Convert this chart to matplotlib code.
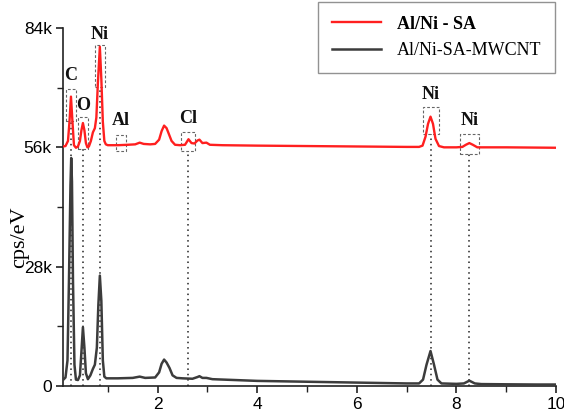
import matplotlib
matplotlib.use("Agg")
import matplotlib.pyplot as plt
from matplotlib.patches import Rectangle
from matplotlib.ticker import FixedLocator

# ---------------- data ----------------
energy_sa = [0.10, 0.15, 0.20, 0.23, 0.26, 0.29, 0.32, 0.36, 0.40, 0.44, 0.47, 0.50,
             0.53, 0.56, 0.59, 0.62, 0.66, 0.70, 0.74, 0.77, 0.80, 0.84, 0.87, 0.90,
             0.93, 0.96, 1.00, 1.20, 1.40, 1.55, 1.64, 1.72, 1.85, 1.95, 2.03, 2.08,
             2.13, 2.18, 2.23, 2.28, 2.35, 2.45, 2.55, 2.62, 2.68, 2.74, 2.80, 2.84,
             2.90, 2.98, 3.05, 3.30, 4.00, 5.00, 6.00, 7.00, 7.25, 7.32, 7.38, 7.43,
             7.48, 7.53, 7.58, 7.65, 7.75, 8.00, 8.12, 8.19, 8.26, 8.33, 8.42, 8.60,
             9.00, 9.50, 10.00]
counts_sa = [56200, 56300, 57500, 62000, 67900, 62000, 56500, 55900, 56200, 57500, 60000, 61700,
             60000, 57000, 56000, 56200, 57500, 59500, 60500, 63000, 71000, 79600, 72000, 62000,
             57500, 56700, 56500, 56500, 56600, 56700, 57100, 56800, 56700, 56800, 57800, 59800,
             61100, 60500, 59000, 57500, 56600, 56500, 56600, 57900, 57000, 56900, 57600, 57800,
             57000, 57100, 56600, 56500, 56400, 56300, 56200, 56100, 56100, 56400, 58500, 61500,
             63200, 61500, 58000, 56300, 56000, 56000, 56100, 56600, 57000, 56600, 56000, 56000,
             56000, 55950, 55900]

energy_cnt = [0.10, 0.15, 0.19, 0.22, 0.25, 0.265, 0.28, 0.30, 0.33, 0.36, 0.40, 0.44,
              0.47, 0.50, 0.53, 0.56, 0.60, 0.65, 0.70, 0.74, 0.78, 0.81, 0.84, 0.87,
              0.90, 0.93, 0.97, 1.20, 1.50, 1.64, 1.75, 1.95, 2.03, 2.08, 2.13, 2.18,
              2.24, 2.30, 2.38, 2.50, 2.70, 2.80, 2.84, 2.90, 2.98, 3.10, 4.00, 5.00,
              6.00, 7.00, 7.25, 7.33, 7.40, 7.48, 7.55, 7.62, 7.70, 8.00, 8.15, 8.26,
              8.37, 8.50, 9.00, 9.60, 10.00]
counts_cnt = [1400, 2000, 6000, 25000, 47000, 53500, 48000, 25000, 5000, 1500, 1400, 2500,
              8000, 13800, 9000, 3000, 1600, 2500, 4000, 5000, 9000, 19000, 25900, 20000,
              6000, 2200, 1800, 1800, 1900, 2200, 1900, 2000, 3200, 5200, 6200, 5500,
              4200, 2500, 1900, 1800, 1700, 2100, 2300, 1900, 1900, 1600, 1200, 1000,
              800, 600, 600, 1500, 5000, 8200, 5000, 1500, 600, 500, 600, 1250,
              600, 450, 400, 350, 350]

series_names = ["Al/Ni - SA", "Al/Ni-SA-MWCNT"]

# element markers: label, peak energy, box extents, label height
peak_labels = ["C", "O", "Ni", "Al", "Cl", "Ni", "Ni"]
peak_energy = [0.26, 0.51, 0.845, 1.27, 2.61, 7.49, 8.26]
box_x0 = [0.165, 0.40, 0.74, 1.156, 2.47, 7.33, 8.07]
box_x1 = [0.352, 0.61, 0.935, 1.37, 2.76, 7.65, 8.45]
box_y0 = [62070, 55600, 70200, 55200, 55100, 59100, 54500]
box_y1 = [69700, 63200, 80000, 58800, 59600, 65400, 59200]
label_y = [72800, 65800, 82500, 62300, 62700, 68500, 62300]
has_dropline = [True, True, True, False, True, True, True]

y_ticks = [0, 28000, 56000, 84000]
y_ticklabels = ["0", "28k", "56k", "84k"]
y_minor = [14000, 42000, 70000]
x_ticks = [2, 4, 6, 8, 10]
x_minor = [1, 3, 5, 7, 9]

# ---------------- figure ----------------
fig = plt.figure(figsize=(5.64, 4.15), dpi=100)
ax = fig.add_axes([63 / 564, 1 - 386 / 415, (556 - 63) / 564, (386 - 28) / 415])

red = "#ff1f1f"
dark = "#3c3c3c"

for lab, e, x0, x1, y0, y1, ly, dl in zip(peak_labels, peak_energy, box_x0, box_x1,
                                           box_y0, box_y1, label_y, has_dropline):
    if dl:
        ax.plot([e, e], [0, y0], linestyle=(0, (1, 2.5)), color="#222222", lw=1.1, zorder=1)
    ax.add_patch(Rectangle((x0, y0), x1 - x0, y1 - y0, fill=False, edgecolor="#666666",
                           lw=0.8, linestyle=(0, (2.5, 1.8)), zorder=1))
    ax.text((x0 + x1) / 2, ly, lab, ha="center", va="center", fontsize=13,
            fontweight="bold", family="Liberation Serif", color="#111111", zorder=5)

l1, = ax.plot(energy_sa, counts_sa, color=red, lw=1.7, zorder=3, label=series_names[0])
l2, = ax.plot(energy_cnt, counts_cnt, color=dark, lw=1.8, zorder=3, label=series_names[1])

ax.set_xlim(0.1, 10)
ax.set_ylim(0, 84000)

for s in ["top", "right"]:
    ax.spines[s].set_visible(False)
for s in ["left", "bottom"]:
    ax.spines[s].set_linewidth(1.2)
    ax.spines[s].set_color("#222222")

ax.set_yticks(y_ticks)
ax.set_yticklabels(y_ticklabels)
ax.yaxis.set_minor_locator(FixedLocator(y_minor))
ax.set_xticks(x_ticks)
ax.set_xticklabels([str(t) for t in x_ticks])
ax.xaxis.set_minor_locator(FixedLocator(x_minor))
ax.tick_params(which="major", length=5, width=1.2, color="#222222", labelsize=12.5, pad=3)
ax.tick_params(which="minor", length=4, width=1.0, color="#222222")
for t in ax.get_xticklabels() + ax.get_yticklabels():
    t.set_family("Liberation Sans")

ax.set_ylabel("cps/eV", family="Liberation Serif", fontsize=16)
ax.yaxis.set_label_coords((29 - 63) / 493, (386 - 237) / 358)

leg = fig.legend(handles=[l1, l2], loc="upper right",
                 bbox_to_anchor=(555 / 564, 1 - 2 / 415),
                 prop={"family": "Liberation Serif", "size": 13},
                 frameon=True, fancybox=False, handlelength=2.7, handletextpad=0.9,
                 labelspacing=0.55, borderpad=0.75, borderaxespad=0)
leg.get_frame().set_edgecolor("#777777")
leg.get_frame().set_linewidth(1.0)
leg.get_texts()[0].set_fontweight("bold")

fig.savefig("out.png", dpi=100)
